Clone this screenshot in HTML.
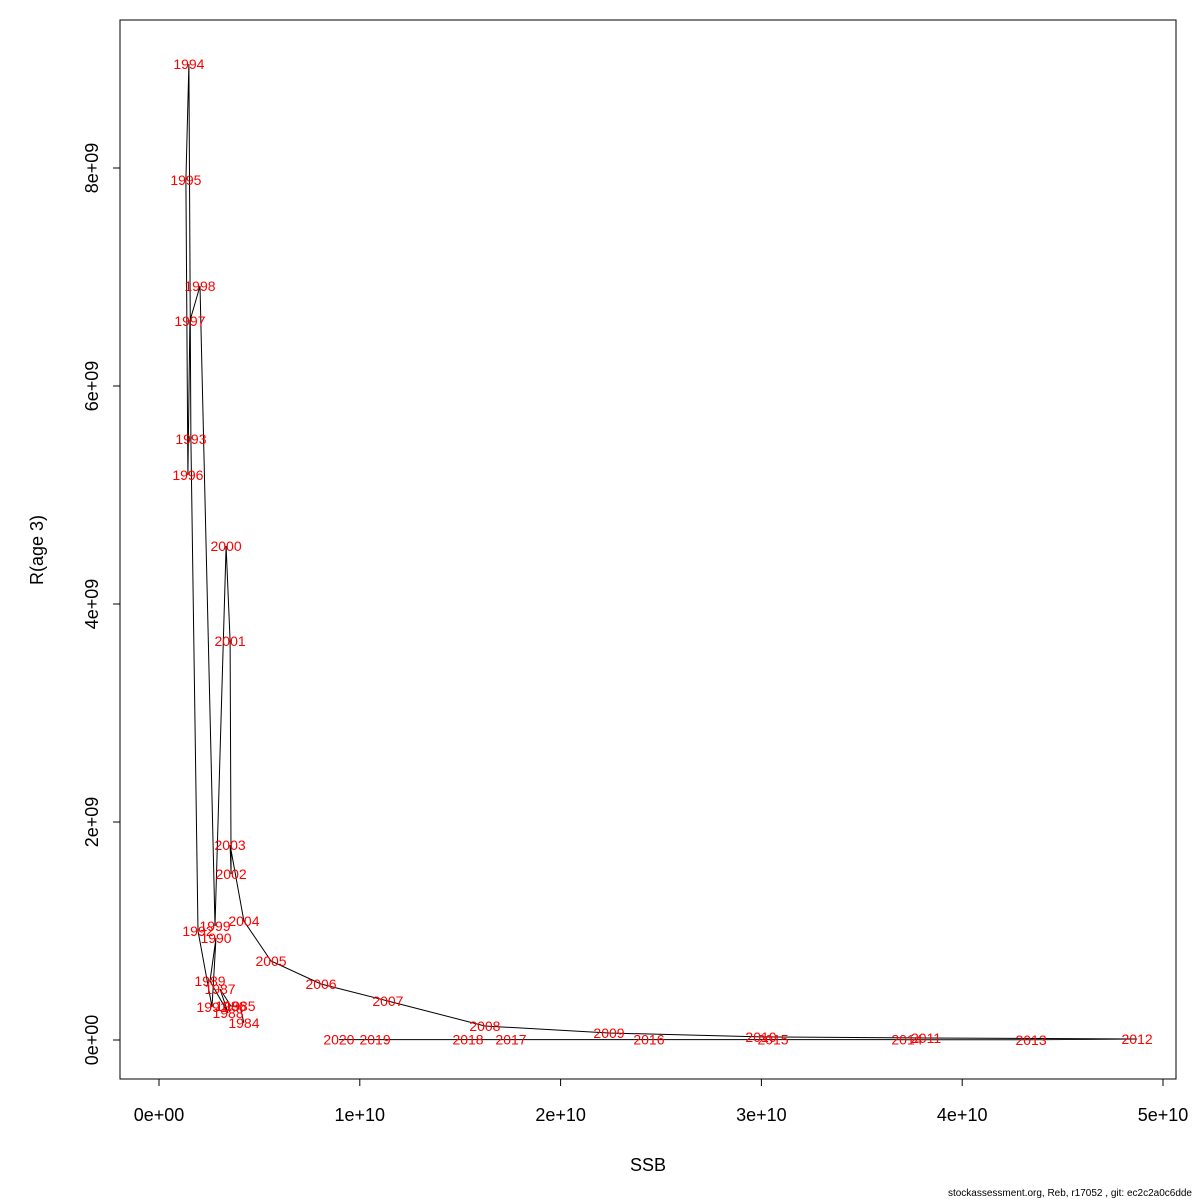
<!DOCTYPE html>
<html><head><meta charset="utf-8"><style>body{margin:0;background:#fff}svg{display:block}</style></head>
<body>
<svg id="chart" width="1200" height="1200" xmlns="http://www.w3.org/2000/svg" font-family="Liberation Sans, sans-serif"></svg>
<script>
const years = [1984,1985,1986,1987,1988,1989,1990,1991,1992,1993,1994,1995,1996,1997,1998,1999,2000,2001,2002,2003,2004,2005,2006,2007,2008,2009,2010,2011,2012,2013,2014,2015,2016,2017,2018,2019,2020];
const ssb = [0.423e10,0.403e10,0.358e10,0.304e10,0.344e10,0.254e10,0.284e10,0.264e10,0.194e10,0.159e10,0.149e10,0.134e10,0.144e10,0.154e10,0.204e10,0.279e10,0.334e10,0.354e10,0.359e10,0.354e10,0.423e10,0.558e10,0.807e10,1.140e10,1.623e10,2.241e10,2.998e10,3.820e10,4.871e10,4.343e10,3.725e10,3.058e10,2.440e10,1.753e10,1.539e10,1.076e10,0.896e10];
const rec = [0.156e9,0.312e9,0.312e9,0.468e9,0.248e9,0.541e9,0.936e9,0.303e9,1.000e9,5.514e9,8.954e9,7.890e9,5.183e9,6.596e9,6.917e9,1.046e9,4.532e9,3.661e9,1.523e9,1.789e9,1.092e9,0.725e9,0.514e9,0.358e9,0.128e9,0.064e9,0.028e9,0.018e9,0.009e9,0.002e9,0.003e9,0.004e9,0.004e9,0.004e9,0.004e9,0.004e9,0.004e9];
const xTicks = [0,1e10,2e10,3e10,4e10,5e10];
const xTickLabels = ["0e+00","1e+10","2e+10","3e+10","4e+10","5e+10"];
const yTicks = [0,2e9,4e9,6e9,8e9];
const yTickLabels = ["0e+00","2e+09","4e+09","6e+09","8e+09"];

const NS="http://www.w3.org/2000/svg";
const svg=document.getElementById('chart');
const X=v=>159+v/1e10*200.8;
const Y=v=>1040-v/1e9*109;
function mk(t,a,txt){const e=document.createElementNS(NS,t);for(const k in a)e.setAttribute(k,a[k]);if(txt!==undefined)e.textContent=txt;svg.appendChild(e);return e;}

let f=mk('rect',{x:120,y:20,width:1056,height:1059,fill:'none',stroke:'#000'});



let xa=mk('line',{x1:X(0),x2:X(5e10),y1:1079,y2:1079,stroke:'#000'});


xTicks.forEach((v,i)=>{
  let t=mk('line',{x1:X(v),x2:X(v),y1:1079,y2:1086,stroke:'#000'});
  
  
  let l=mk('text',{x:X(v),y:1121,'font-size':18,'text-anchor':'middle'},xTickLabels[i]);
  
  
});
let ya=mk('line',{x1:120,x2:120,y1:Y(0),y2:Y(8e9),stroke:'#000'});


yTicks.forEach((v,i)=>{
  let t=mk('line',{x1:113,x2:120,y1:Y(v),y2:Y(v),stroke:'#000'});
  
  
  let l=mk('text',{x:0,y:0,'font-size':18,'text-anchor':'middle',transform:`translate(98,${Y(v)}) rotate(-90)`},yTickLabels[i]);
  
  
});
let xt=mk('text',{x:648,y:1171,'font-size':18,'text-anchor':'middle'},'SSB');


let yt=mk('text',{x:0,y:0,'font-size':18,'text-anchor':'middle',transform:'translate(43,550) rotate(-90)'},'R(age 3)');



let pts=years.map((y,i)=>X(ssb[i]).toFixed(1)+','+Y(rec[i]).toFixed(1)).join(' ');
let pl=mk('polyline',{points:pts,fill:'none',stroke:'#000','stroke-width':1});


years.forEach((y,i)=>{
  let t=mk('text',{x:X(ssb[i]),y:Y(rec[i])+5,'font-size':14,fill:'#ff0000','text-anchor':'middle'},String(y));
  
  
});
let ft=mk('text',{x:1192,y:1196,'font-size':10,'text-anchor':'end'},'stockassessment.org, Reb, r17052 , git: ec2c2a0c6dde');


</script>
</body></html>
